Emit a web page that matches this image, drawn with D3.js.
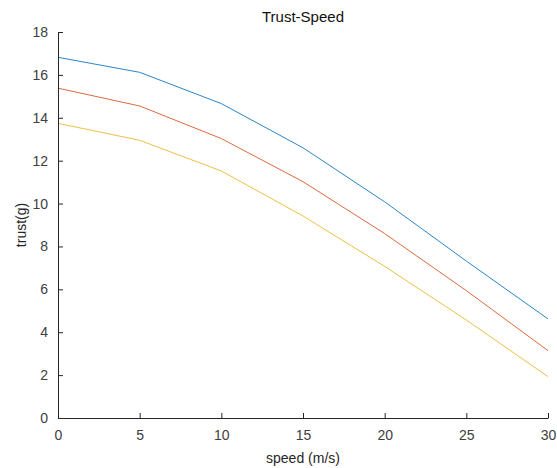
<!DOCTYPE html>
<html>
<head>
<meta charset="utf-8">
<script src="https://cdn.jsdelivr.net/npm/d3@7/dist/d3.min.js"></script>
<style>
  html, body { margin: 0; padding: 0; background: #fff; }
  svg { display: block; font-family: "Liberation Sans", Arial, sans-serif; }
</style>
</head>
<body>
<svg id="chart" width="557" height="468"></svg>
<script>
// Thrust versus speed, three curves
const speeds = [0, 5, 10, 15, 20, 25, 30];
const seriesA = [16.82, 16.12, 14.66, 12.6, 10.08, 7.32, 4.62];
const seriesB = [15.38, 14.55, 13.03, 11.02, 8.6, 5.94, 3.14];
const seriesC = [13.74, 12.95, 11.52, 9.42, 7.07, 4.57, 1.93];
const seriesColors = ["#2a86c8", "#dc6a3e", "#eec046"];
const xTicks = [0, 5, 10, 15, 20, 25, 30];
const yTicks = [0, 2, 4, 6, 8, 10, 12, 14, 16, 18];

const svg = d3.select("#chart");
const margin = { left: 58, right: 9, top: 32, bottom: 50 };
const W = 557, H = 468;

const x = d3.scaleLinear().domain([0, 30]).range([margin.left, W - margin.right]);
const y = d3.scaleLinear().domain([0, 18]).range([H - margin.bottom, margin.top]);

const axisColor = "#262626";

// curves
const line = d3.line().x((d, i) => x(speeds[i])).y(d => y(d));
[seriesA, seriesB, seriesC].forEach((s, k) => {
  svg.append("path")
    .datum(s)
    .attr("fill", "none")
    .attr("stroke", seriesColors[k])
    .attr("stroke-width", 1)
    .attr("d", line);
});

// x axis (ticks point inward)
const gx = svg.append("g")
  .attr("transform", `translate(0,${y(0)})`)
  .call(d3.axisBottom(x).tickValues(xTicks).tickSizeInner(-5).tickSizeOuter(0).tickPadding(12));
// y axis
const gy = svg.append("g")
  .attr("transform", `translate(${x(0)},0)`)
  .call(d3.axisLeft(y).tickValues(yTicks).tickSizeInner(-5).tickSizeOuter(0).tickPadding(10));

[gx, gy].forEach(g => {
  g.select(".domain").attr("stroke", axisColor).attr("stroke-width", 1);
  g.selectAll(".tick line").attr("stroke", axisColor);
  g.selectAll(".tick text").attr("fill", "#404040").style("font-size", "14px")
    .style("font-family", "'Liberation Sans', Arial, sans-serif");
});

// title and axis labels
svg.append("text")
  .attr("x", (x(0) + x(30)) / 2).attr("y", 22)
  .attr("text-anchor", "middle")
  .style("font-size", "15px").attr("fill", "#111")
  .text("Trust-Speed");

svg.append("text")
  .attr("x", (x(0) + x(30)) / 2).attr("y", 463)
  .attr("text-anchor", "middle")
  .style("font-size", "14px").attr("fill", "#262626")
  .text("speed (m/s)");

svg.append("text")
  .attr("transform", `translate(26,${(y(0) + y(18)) / 2}) rotate(-90)`)
  .attr("text-anchor", "middle")
  .style("font-size", "14px").attr("fill", "#262626")
  .text("trust(g)");
</script>
</body>
</html>
